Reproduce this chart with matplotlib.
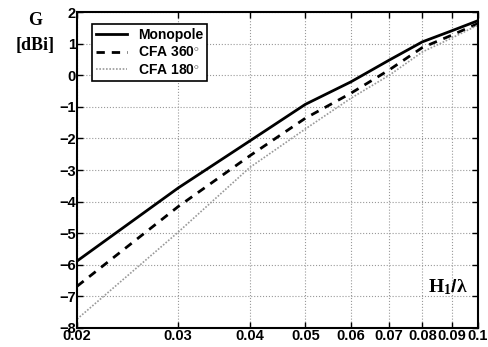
import numpy as np
import matplotlib
matplotlib.use('Agg')
import matplotlib.pyplot as plt
from matplotlib.ticker import FixedLocator, FixedFormatter, NullLocator

# antenna height over wavelength
h = [0.02, 0.03, 0.04, 0.05, 0.06, 0.07, 0.08, 0.09, 0.1]
g_mono = [-5.88, -3.57, -2.08, -0.92, -0.21, 0.48, 1.06, 1.41, 1.73]
g_cfa360 = [-6.68, -4.16, -2.55, -1.36, -0.57, 0.17, 0.88, 1.27, 1.64]
g_cfa180 = [-7.72, -4.97, -2.92, -1.70, -0.73, 0.00, 0.74, 1.18, 1.59]

xticks = [0.02, 0.03, 0.04, 0.05, 0.06, 0.07, 0.08, 0.09, 0.1]
xlabels = ['0.02', '0.03', '0.04', '0.05', '0.06', '0.07', '0.08', '0.09', '0.1']
yticks = [-8, -7, -6, -5, -4, -3, -2, -1, 0, 1, 2]

plt.rcParams['font.family'] = ['Liberation Sans', 'DejaVu Sans']
plt.rcParams['font.weight'] = 'bold'
plt.rcParams['mathtext.fontset'] = 'custom'
plt.rcParams['mathtext.rm'] = 'Liberation Serif:bold'
plt.rcParams['mathtext.bf'] = 'Liberation Serif:bold'
plt.rcParams['mathtext.it'] = 'Liberation Serif:bold'

fig = plt.figure(figsize=(4.88, 3.47), dpi=100)
ax = fig.add_axes([0.158, 0.055, 0.8215, 0.91])

ax.plot(h, g_mono, 'k-', linewidth=2, label='Monopole')
ax.plot(h, g_cfa360, 'k--', linewidth=2, dashes=(3, 2.5), label='CFA 360$^{\\circ}$')
ax.plot(h, g_cfa180, color='#999999', linestyle=':', linewidth=1.2, dashes=(1, 1),
        label='CFA 180$^{\\circ}$')

ax.set_xscale('log')
ax.set_xlim(0.02, 0.1)
ax.set_ylim(-8, 2)
ax.xaxis.set_major_locator(FixedLocator(xticks))
ax.xaxis.set_major_formatter(FixedFormatter(xlabels))
ax.xaxis.set_minor_locator(NullLocator())
ax.set_yticks(yticks)
ax.set_yticklabels(['\u2212%d' % -v if v < 0 else '%d' % v for v in yticks])
ax.tick_params(direction='in', top=True, right=True, labelsize=10.5, length=4, width=1, pad=1)
for s in ax.spines.values():
    s.set_linewidth(1.5)
ax.grid(True, linestyle=':', color='#999999', linewidth=0.8)

leg = ax.legend(loc='upper left', bbox_to_anchor=(0.02, 0.985), fancybox=False,
                edgecolor='black', framealpha=1, prop={'size': 10, 'weight': 'bold'},
                handlelength=2.2, borderpad=0.3, labelspacing=0.25, handletextpad=0.8)
leg.get_frame().set_linewidth(1.2)

fig.text(0.072, 0.94, 'G', ha='center', va='center', family='Liberation Serif',
         fontsize=13, weight='bold')
fig.text(0.072, 0.87, '[dBi]', ha='center', va='center', family='Liberation Serif',
         fontsize=13, weight='bold')
ax.text(0.975, 0.13, '$\\mathbf{H_1}$/$\\lambda$', transform=ax.transAxes, ha='right',
        va='center', fontsize=14)

fig.savefig('out.png', dpi=100)
